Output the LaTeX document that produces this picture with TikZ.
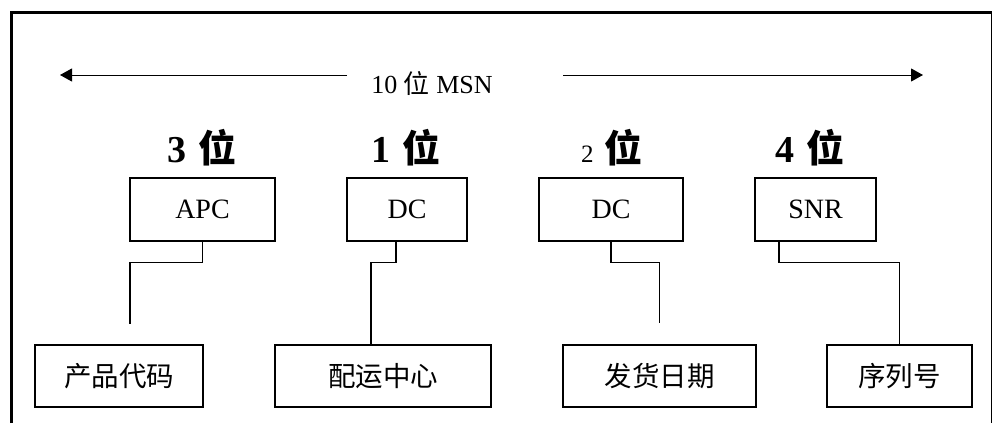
\documentclass[tikz,border=0pt]{standalone}
\usepackage{fontspec}
\setmainfont{Liberation Serif}
\newfontfamily\cjk{Noto Sans CJK SC}
\usetikzlibrary{arrows.meta}

\begin{document}
\begin{tikzpicture}[
  x=1pt, y=-1pt,
  field/.style={rectangle, draw, line width=1.4pt, inner sep=0pt, minimum height=63pt, font=\fontsize{28}{30}\selectfont},
  meaning/.style={rectangle, draw, line width=1.4pt, inner sep=0pt, minimum height=62pt, font=\fontsize{27.5}{29}\selectfont\cjk},
  head/.style={anchor=base, inner sep=0pt, font=\fontsize{38}{40}\selectfont\bfseries},
  link/.style={line width=1.3pt},
  arrow/.style={-{Triangle[length=12pt, width=13pt]}, line width=1pt}
]
  \useasboundingbox (0,0) rectangle (995,423);

  % outer frame
  \draw[line width=3pt] (11.5,423) -- (11.5,12.5) -- (991.5,12.5);
  \draw[line width=1.6pt] (991.5,12.5) -- (991.5,423);

  % total length
  \node[anchor=base, inner sep=0pt, font=\fontsize{26}{28}\selectfont] (msn) at (432,93) {10 {\cjk 位} MSN};
  \coordinate (msnL) at (347,75);
  \coordinate (msnR) at (563,75);
  \coordinate (tipL) at (60,75);
  \coordinate (tipR) at (923,75);
  \draw[arrow] (msnL) -- (tipL);
  \draw[arrow] (msnR) -- (tipR);

  % digit counts
  \node[head] (h1) at (202,162) {3\hspace{.3em}{\cjk\bfseries 位}};
  \node[head] (h2) at (406,162) {1\hspace{.3em}{\cjk\bfseries 位}};
  \node[head] (h3) at (612,162) {{\fontsize{25}{27}\selectfont\mdseries 2}\hspace{.3em}{\cjk\bfseries 位}};
  \node[head] (h4) at (810,162) {4\hspace{.3em}{\cjk\bfseries 位}};

  % code fields
  \node[field, minimum width=145pt] (apc) at (202.5,209.5) {APC};
  \node[field, minimum width=120pt] (dca) at (407,209.5) {DC};
  \node[field, minimum width=144pt] (dcb) at (611,209.5) {DC};
  \node[field, minimum width=121pt] (snr) at (815.5,209.5) {SNR};

  % meanings
  \node[meaning, minimum width=168pt] (pcode)  at (119,376) {产品代码};
  \node[meaning, minimum width=216pt] (center) at (383,376) {配运中心};
  \node[meaning, minimum width=193pt] (date)   at (659.5,376) {发货日期};
  \node[meaning, minimum width=145pt] (serial) at (899.5,376) {序列号};

  \coordinate (apcEnd) at (130,324);
  \coordinate (dateEnd) at ([yshift=21pt]date.north);

  \draw[link] (apc.south) -- ++(0,21) -| (apcEnd);
  \draw[link] ([xshift=-11pt]dca.south) -- ++(0,21) -| ([xshift=-12pt]center.north);
  \draw[link] (dcb.south) -- ++(0,21) -| (dateEnd);
  \draw[link] ([xshift=-36.5pt]snr.south) -- ++(0,21) -| (serial.north);
\end{tikzpicture}
\end{document}
